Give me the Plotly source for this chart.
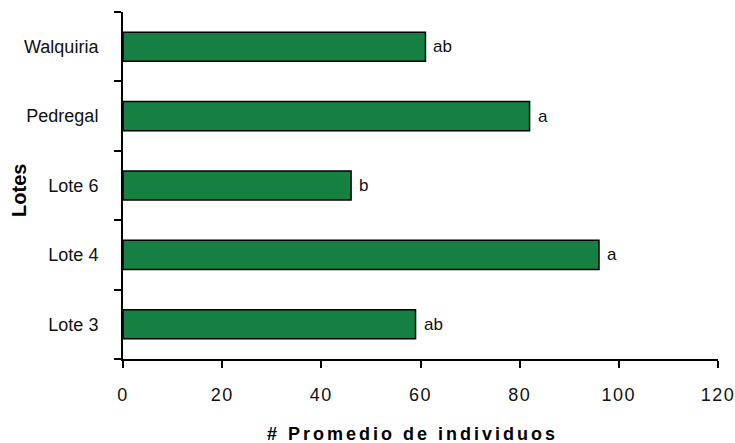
import plotly.graph_objects as go

# Average number of individuals per lot, with significance letters
lotes = ["Lote 3", "Lote 4", "Lote 6", "Pedregal", "Walquiria"]
promedio = [59, 96, 46, 82, 61]
letras = ["ab", "a", "b", "a", "ab"]
x_ticks = [0, 20, 40, 60, 80, 100, 120]

FONT = "Liberation Sans, Arial, sans-serif"
GREEN = "#168042"

fig = go.Figure()
fig.add_trace(go.Bar(
    y=lotes,
    x=promedio,
    orientation="h",
    width=0.42,
    marker=dict(color=GREEN, line=dict(color="black", width=1.5)),
    hoverinfo="x+y",
))

# significance letters next to each bar end
for lote, val, letra in zip(lotes, promedio, letras):
    fig.add_annotation(
        x=val, y=lote, text=letra, showarrow=False,
        xanchor="left", yanchor="middle", xshift=6,
        font=dict(family=FONT, size=17, color="#111111"),
    )

# axis titles
fig.add_annotation(
    x=0.487, y=0, xref="paper", yref="paper",
    text='<span style="letter-spacing:3px"><b># Promedio de individuos</b></span>',
    showarrow=False, xanchor="center", yanchor="middle", yshift=-75,
    font=dict(family=FONT, size=18, color="black"),
)
fig.add_annotation(
    x=-0.175, y=0.487, xref="paper", yref="paper",
    text="<b>Lotes</b>", textangle=-90,
    showarrow=False, xanchor="center", yanchor="middle",
    font=dict(family=FONT, size=20, color="black"),
)

fig.update_layout(
    width=735, height=443,
    margin=dict(l=123, r=17, t=12, b=84, autoexpand=False),
    paper_bgcolor="white", plot_bgcolor="white",
    showlegend=False,
    font=dict(family=FONT, size=18, color="#111111"),
    xaxis=dict(
        range=[0, 120],
        tickvals=x_ticks,
        ticktext=[f'<span style="letter-spacing:1.5px">{v}</span>' for v in x_ticks],
        showgrid=False, zeroline=False,
        showline=True, linecolor="black", linewidth=2,
        ticks="outside", ticklen=7, tickwidth=2, tickcolor="black",
        ticklabelstandoff=11, ticklabeloverflow="allow",
        tickfont=dict(family=FONT, size=18, color="#111111"),
        automargin=False,
        fixedrange=True,
    ),
    yaxis=dict(
        categoryorder="array", categoryarray=lotes,
        range=[-0.5, 4.5],
        showgrid=False, zeroline=False,
        showline=True, linecolor="black", linewidth=2,
        ticks="outside", tickson="boundaries", ticklen=7, tickwidth=2, tickcolor="black",
        ticklabelstandoff=19, ticklabeloverflow="allow",
        tickfont=dict(family=FONT, size=18, color="#111111"),
        automargin=False,
        fixedrange=True,
    ),
)

fig.write_html("out.html")
